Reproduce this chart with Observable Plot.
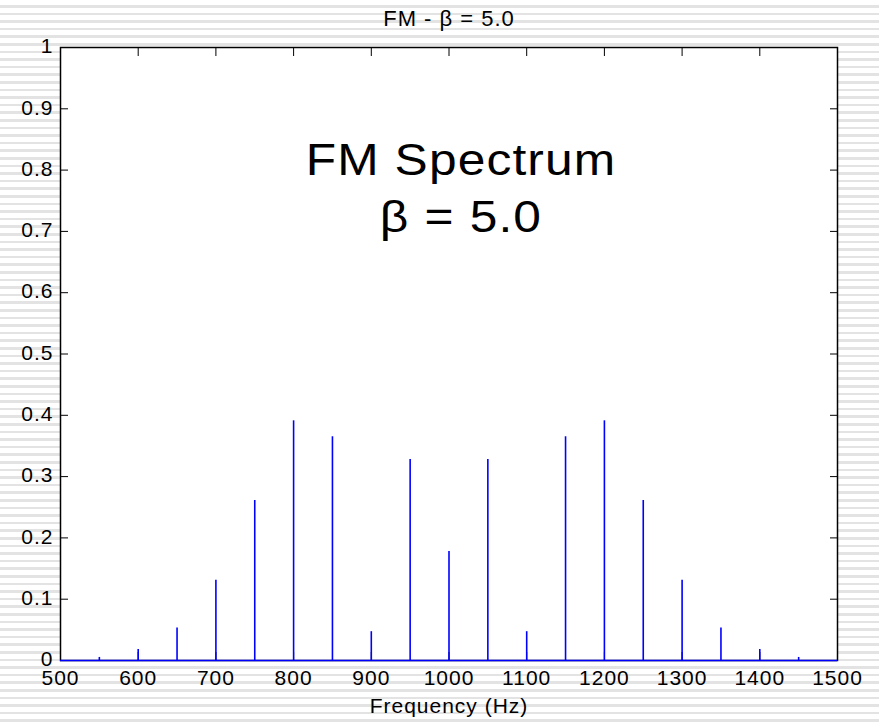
<!DOCTYPE html>
<html>
<head>
<meta charset="utf-8">
<script src="https://cdn.jsdelivr.net/npm/d3@7"></script>
<script src="https://cdn.jsdelivr.net/npm/@observablehq/plot@0.6"></script>
<style>
  html, body { margin: 0; padding: 0; }
  body {
    width: 879px; height: 722px; overflow: hidden;
    background: repeating-linear-gradient(to bottom, #ffffff 0px, #ffffff 5px, #e3e3e3 5px, #e3e3e3 7.6px);
    font-family: "Liberation Sans", Arial, sans-serif;
  }
  svg { background: transparent !important; display: block; }
  svg text { letter-spacing: 1px; }
</style>
</head>
<body>
<div id="chart"></div>
<script>
const freqs = [550, 600, 650, 700, 750, 800, 850, 900, 950, 1000, 1050, 1100, 1150, 1200, 1250, 1300, 1350, 1400, 1450];
const amps  = [0.005, 0.018, 0.053, 0.131, 0.261, 0.391, 0.365, 0.047, 0.328, 0.178, 0.328, 0.047, 0.365, 0.391, 0.261, 0.131, 0.053, 0.018, 0.005];
const xTicks = [500, 600, 700, 800, 900, 1000, 1100, 1200, 1300, 1400, 1500];
const yTicks = [0, 0.1, 0.2, 0.3, 0.4, 0.5, 0.6, 0.7, 0.8, 0.9, 1];
const titleText = "FM - β = 5.0";
const xLabel = "Frequency (Hz)";
const annotation = ["FM Spectrum", "β = 5.0"];

const data = freqs.map((f, i) => ({f, a: amps[i]}));
const font = "'Liberation Sans', Arial, sans-serif";

// horizontally stretch a text mark about the frame centre (the reference font is wide)
const stretch = (k) => (index, scales, values, dimensions, context, next) => {
  const g = next(index, scales, values, dimensions, context);
  const cx = (dimensions.marginLeft + dimensions.width - dimensions.marginRight) / 2;
  const t = g.getAttribute("transform") || "";
  g.setAttribute("transform", `${t} translate(${cx},0) scale(${k},1) translate(${-cx},0)`);
  return g;
};

const chart = Plot.plot({
  width: 879,
  height: 722,
  marginLeft: 60,
  marginRight: 42,
  marginTop: 47,
  marginBottom: 62,
  style: {background: "transparent", fontFamily: font, color: "black", fontSize: "21px"},
  x: {domain: [500, 1500], ticks: xTicks, label: null},
  y: {domain: [0, 1], ticks: yTicks, label: null},
  marks: [
    Plot.frame({fill: "white", stroke: "none"}),
    // inward ticks on all four sides
    Plot.axisX(xTicks, {anchor: "bottom", tickSize: 8, dy: -8, text: null, stroke: "black", label: null}),
    Plot.axisX(xTicks, {anchor: "top", tickSize: 8, dy: 8, text: null, stroke: "black", label: null}),
    Plot.axisY(yTicks, {anchor: "left", tickSize: 8, dx: 8, text: null, stroke: "black", label: null}),
    Plot.axisY(yTicks, {anchor: "right", tickSize: 8, dx: -8, text: null, stroke: "black", label: null}),
    Plot.frame({stroke: "black", strokeWidth: 1.5}),
    Plot.ruleY([0], {stroke: "#0000ff", strokeWidth: 1.5}),
    Plot.ruleX(data, {x: "f", y1: 0, y2: "a", stroke: "#0000ff", strokeWidth: 1.6}),
    // tick labels
    Plot.axisX(xTicks, {anchor: "bottom", tickSize: 0, tickPadding: 10, fontSize: 21, fill: "black", label: null, tickFormat: d => String(d)}),
    Plot.axisY(yTicks, {anchor: "left", tickSize: 0, tickPadding: 7, dy: -1, fontSize: 21, fill: "black", label: null, tickFormat: d => String(d)}),
    // title and axis label
    Plot.text([titleText], {frameAnchor: "top", dy: -37, text: d => d, fontSize: 22, fill: "black"}),
    Plot.text([xLabel], {frameAnchor: "bottom", dy: 52, text: d => d, fontSize: 21, fill: "black"}),
    // annotation
    Plot.text([annotation.join("\n")], {frameAnchor: "top", dx: 12, dy: 87, lineAnchor: "top", lineHeight: 1.3, text: d => d, fontSize: 44, fill: "black", render: stretch(1.13)})
  ]
});
document.getElementById("chart").appendChild(chart);
</script>
</body>
</html>
